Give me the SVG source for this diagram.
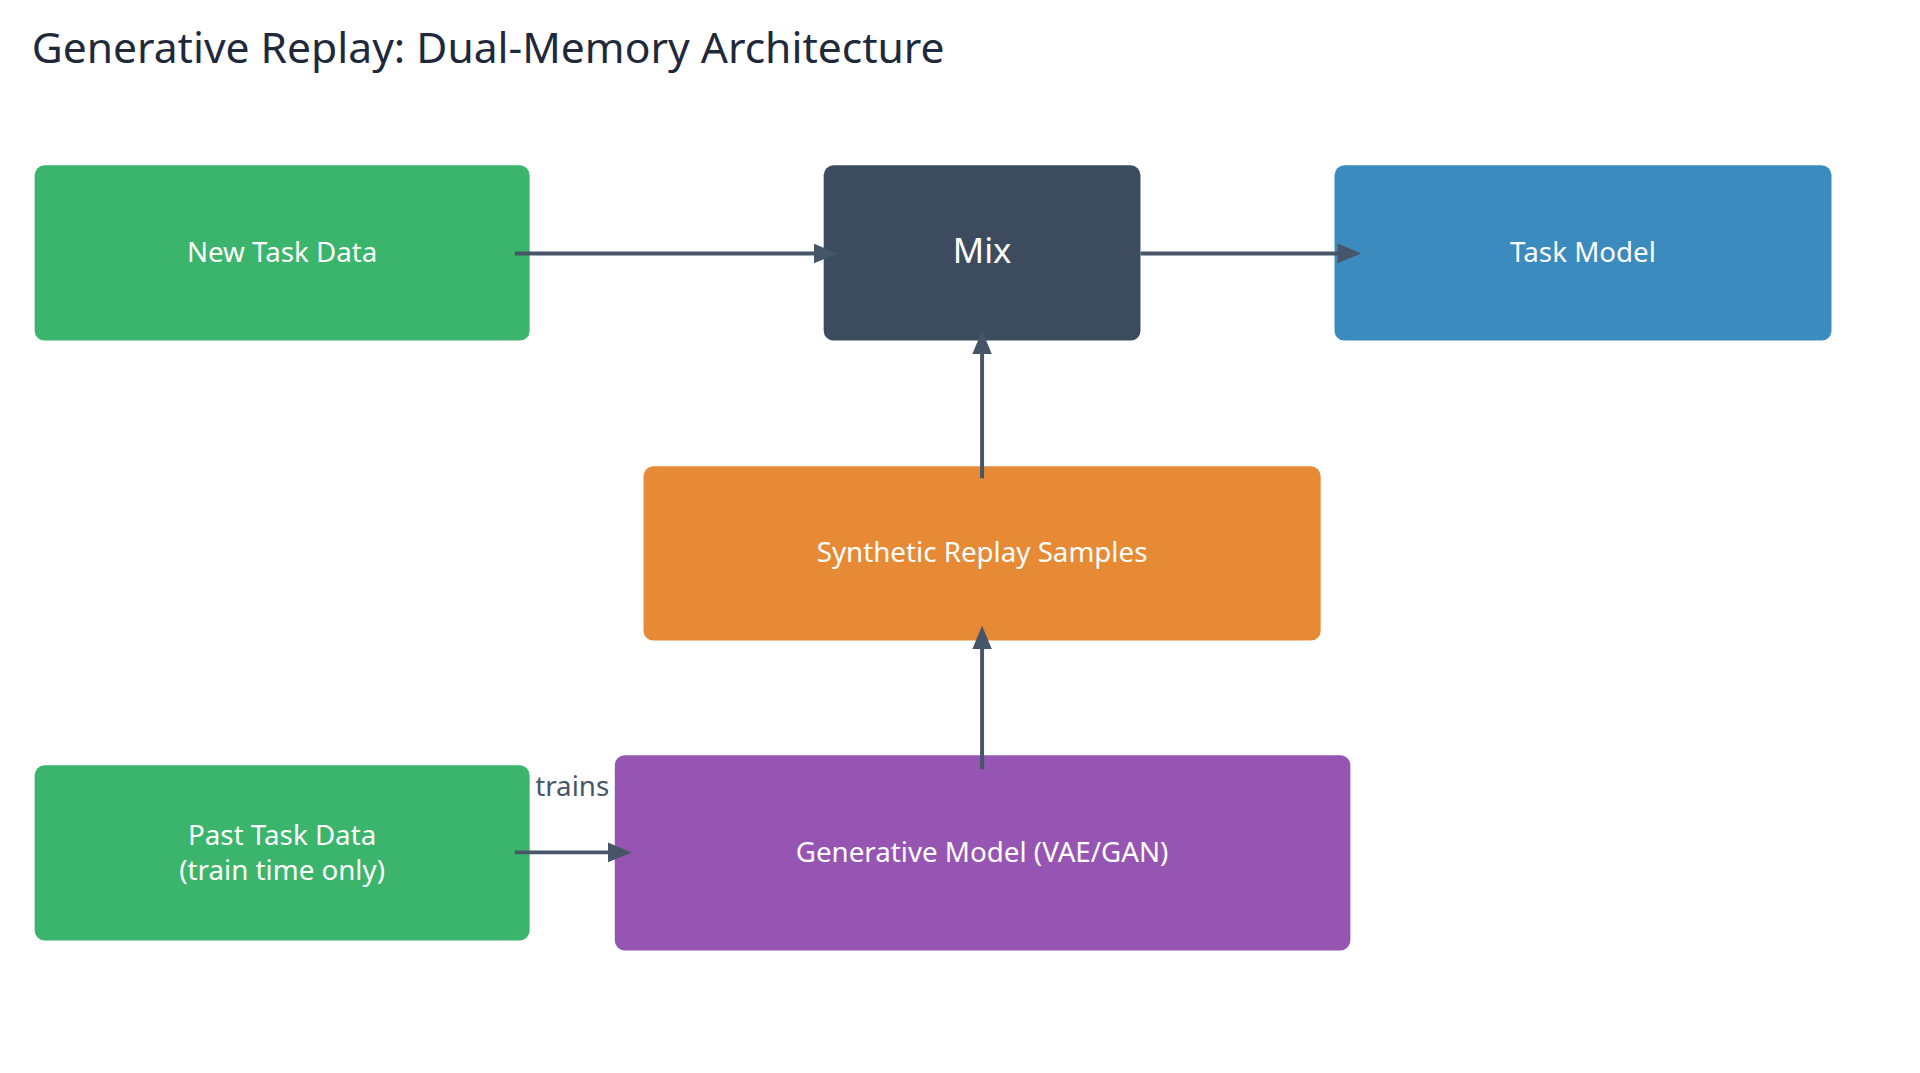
<svg xmlns="http://www.w3.org/2000/svg" width="1920" height="1073" viewBox="0 0 1920 1073">
<style>
.t{font-family:"Noto Sans","Liberation Sans",sans-serif;fill:#fff;text-anchor:middle;font-size:28px}
</style>
<defs>
<marker id="b" markerWidth="24" markerHeight="24" refX="18" refY="12" orient="auto" markerUnits="userSpaceOnUse" viewBox="0 0 24 24"><path d="M0,2L24,12L0,22z" fill="#475569"/></marker></defs>
<rect width="1920" height="1073" fill="#fff"/>
<g transform="scale(0.99)">
<text x="32" y="64" font-family="Noto Sans,Liberation Sans,sans-serif" font-size="43" fill="#1e293b">Generative Replay: Dual-Memory Architecture</text>
<g id="new"><rect x="35" y="167" width="500" height="177" rx="10" fill="#3ab56b"/><text class="t" x="285" y="265">New Task Data</text></g>
<g id="mix"><rect x="832" y="167" width="320" height="177" rx="10" fill="#3d4b5f"/><text class="t" x="992" y="266" style="font-size:35px">Mix</text></g>
<g id="task"><rect x="1348" y="167" width="502" height="177" rx="10" fill="#3b8bbf"/><text class="t" x="1599" y="265">Task Model</text></g>
<g id="syn"><rect x="650" y="471" width="684" height="176" rx="10" fill="#e78a36"/><text class="t" x="992" y="568">Synthetic Replay Samples</text></g>
<g id="gen"><rect x="621" y="763" width="743" height="197" rx="10" fill="#9654b3"/><text class="t" x="992" y="871">Generative Model (VAE/GAN)</text></g>
<g id="past"><rect x="35" y="773" width="500" height="177" rx="10" fill="#3ab56b"/><text class="t" x="285" y="854">Past Task Data</text><text class="t" x="285" y="889">(train time only)</text></g>
<g id="connectors" stroke="#475569" stroke-width="4" fill="none">
<path d="M520,256H840" marker-end="url(#b)"/>
<path d="M1152,256H1369" marker-end="url(#b)"/>
<path d="M992,483V340" marker-end="url(#b)"/>
<path d="M992,777V638" marker-end="url(#b)"/>
<path d="M520,861H632" marker-end="url(#b)"/>
<text x="578" y="804" stroke="none" fill="#475569" font-family="Noto Sans,Liberation Sans,sans-serif" font-size="28" text-anchor="middle">trains</text>
</g>
</g>
</svg>
